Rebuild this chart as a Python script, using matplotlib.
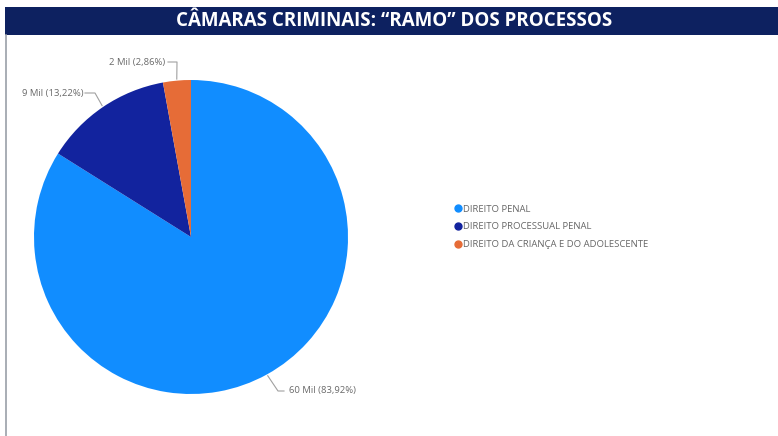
import numpy as np
import matplotlib
matplotlib.use("Agg")
import matplotlib.pyplot as plt
from matplotlib.lines import Line2D
from matplotlib.patches import Rectangle

# data: branch of the criminal-court cases
categories = ["DIREITO PENAL", "DIREITO PROCESSUAL PENAL", "DIREITO DA CRIANÇA E DO ADOLESCENTE"]
shares = [83.92, 13.22, 2.86]
totals = ["60 Mil", "9 Mil", "2 Mil"]
colors = ["#118DFF", "#12239E", "#E66C37"]

W, H = 778, 436
fig = plt.figure(figsize=(W / 100, H / 100), dpi=100)
fig.patch.set_facecolor("white")

# title banner
fig.patches.append(Rectangle((5 / W, 1 - 35 / H), 1 - 5 / W, 28 / H, transform=fig.transFigure,
                             facecolor="#0d2160", edgecolor="none"))
fig.lines.append(Line2D([5.5 / W, 5.5 / W], [0, 1 - 35 / H], transform=fig.transFigure,
                        color="#9a9fa8", lw=1.2))
fig.text(394 / W, 1 - 21 / H, "CÂMARAS CRIMINAIS: \u201cRAMO\u201d DOS PROCESSOS", color="white",
         fontsize=13.5, fontweight="bold", family="Open Sans", ha="center", va="center")

# pie
cx, cy, r = 191, 237, 157
ax = fig.add_axes([(cx - r) / W, (H - cy - r) / H, 2 * r / W, 2 * r / H])
wedges, _ = ax.pie(shares, colors=colors, startangle=90, counterclock=False, radius=1,
                   wedgeprops=dict(linewidth=0))
ax.set_xlim(-1, 1)
ax.set_ylim(-1, 1)
ax.set_aspect("equal")
ax.axis("off")

# leader lines: (elbow x, elbow y, end x) in pixels, text x
leaders = [(278, 391, 284, 289), (95, 93, 85, 83), (177, 62, 168, 165)]
for w, share, tot, (ex, ey, hx, tx) in zip(wedges, shares, totals, leaders):
    ang = np.deg2rad((w.theta1 + w.theta2) / 2)
    sx, sy = np.cos(ang) * 1.01, np.sin(ang) * 1.01
    ex_d, ey_d = (ex - cx) / r, (cy - ey) / r
    hx_d, tx_d = (hx - cx) / r, (tx - cx) / r
    ax.plot([sx, ex_d, hx_d], [sy, ey_d, ey_d], color="#a0a0a0", lw=0.8, clip_on=False)
    lab = f"{tot} ({share:.2f}%)".replace(".", ",")
    ax.text(tx_d, ey_d, lab, fontsize=6.8, color="#6a6a6a", family="Open Sans",
            ha="left" if tx > hx else "right", va="center", clip_on=False)

# legend
handles = [Line2D([], [], marker="o", linestyle="none", markersize=5, markerfacecolor=c,
                  markeredgecolor=c) for c in colors]
fig.legend(handles, categories, loc="upper left", bbox_to_anchor=(447 / W, 1 - 196 / H),
           frameon=False, handlelength=0.6, handletextpad=0.15, labelspacing=0.94,
           prop=dict(family="Open Sans", size=6.8), labelcolor="#666666")

fig.savefig("out.png", dpi=100, facecolor="white")
plt.close(fig)
